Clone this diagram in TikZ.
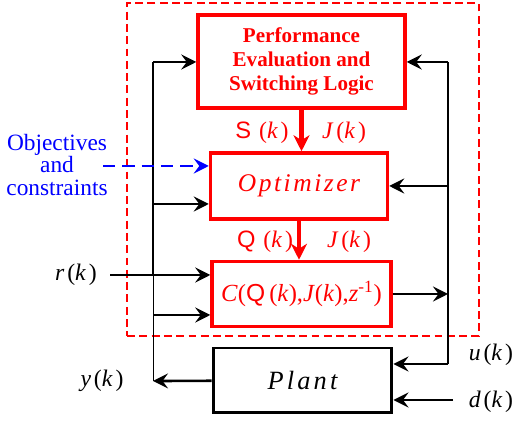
\documentclass[tikz,border=0pt]{standalone}
\usepackage{fontspec}
\setmainfont{Liberation Serif}
\setsansfont{Liberation Sans}
\usepackage{xcolor}
\usepackage{tikz}
\usetikzlibrary{arrows.meta,positioning,calc}
\definecolor{sigred}{HTML}{FF0000}
\definecolor{objblue}{HTML}{0000FF}
\newcommand{\kk}{(\textit{k})}
\begin{document}
\begin{tikzpicture}[x=0.02cm,y=-0.02cm,
  blk/.style={draw=sigred,line width=2pt,text=sigred,align=center,inner sep=2pt},
  plantbox/.style={draw=black,line width=1.7pt,align=center,inner sep=2pt},
  frame/.style={draw=sigred,line width=0.9pt,dash pattern=on 4.5pt off 2.5pt},
  lbl/.style={font=\fontsize{13.5}{15}\selectfont\addfontfeatures{LetterSpace=12}},
  bus/.style={line width=1.5pt},
  arr/.style={-{Stealth[length=3mm,width=3mm,inset=1.1mm]},line width=1.5pt},
  sigarr/.style={-{Stealth[length=3.2mm,width=3.2mm,inset=1mm]},line width=2.6pt,draw=sigred},
  obj/.style={-{Stealth[length=3mm,width=3mm,inset=1.1mm]},line width=1.5pt,draw=objblue,dash pattern=on 7pt off 4pt}
]
\useasboundingbox (0,0) rectangle (514,421);
% controller frame and blocks
\node[frame,minimum width=7.04cm,minimum height=6.66cm] (ctl) at (303,169.5) {};
\node[blk,minimum width=4.14cm,minimum height=1.86cm,
      font=\bfseries\fontsize{12}{13.6}\selectfont] (perf) at (301.5,61.5)
      {Performance\\Evaluation and\\Switching Logic};
\node[blk,minimum width=3.54cm,minimum height=1.32cm,
      font=\itshape\fontsize{14.5}{16}\selectfont\addfontfeatures{LetterSpace=10}] (opt) at (299,186) {Optimizer};
\node[blk,minimum width=3.58cm,minimum height=1.3cm,
      font=\fontsize{14}{16}\selectfont] (ctrl) at (301.5,294)
      {\textit{C}({\sffamily Q}\,\kk,\textit{J}\kk,\textit{z}\textsuperscript{-1})};
\node[plantbox,minimum width=3.58cm,minimum height=1.3cm,
      font=\itshape\fontsize{15}{17}\selectfont\addfontfeatures{LetterSpace=12}] (plant) at (302.5,380.5) {Plant};
% signal labels
\node[lbl,text=sigred] (sk) at (262,133) {{\sffamily S}\,\,\kk};
\node[lbl,text=sigred] (jk1) at (344,133) {\textit{J}\kk};
\node[lbl,text=sigred] (qk) at (265,242) {{\sffamily Q}\,\,\kk};
\node[lbl,text=sigred] (jk2) at (349,242) {\textit{J}\kk};
\node[lbl] (rk) at (76,275) {\textit{r}\kk};
\node[lbl] (yk) at (102,381) {\textit{y}\kk};
\node[lbl] (uk) at (491,355) {\textit{u}\kk};
\node[lbl] (dk) at (491,402) {\textit{d}\kk};
\node[text=objblue,align=center,font=\fontsize{13.3}{12.7}\selectfont] (objs) at (57,165)
      {Objectives\\and\\constraints};
% bus points
\coordinate (ltop) at (153,62);
\coordinate (lopt) at (153,204);
\coordinate (lr) at (153,275);
\coordinate (lc) at (153,315);
\coordinate (lbot) at (153,381);
\coordinate (rtop) at (448,62);
\coordinate (ropt) at (448,186);
\coordinate (rc) at (448,294);
\coordinate (rbot) at (448,364);
\coordinate (rin) at (110,275);
\coordinate (din) at (453,400);
\coordinate (bin) at (103,166);
% red signal flow
\draw[sigarr] (perf.south) -- (perf.south |- opt.north);
\draw[sigarr] (opt.south) -- (opt.south |- ctrl.north);
% left bus: measured output
\draw[arr] (plant) -- (lbot);
\draw[line width=0.5pt] (lbot) -- (lr);
\draw[bus] (lr) -- (ltop);
\draw[arr] (ltop) -- (ltop -| perf.west);
\draw[arr] (lopt) -- (lopt -| opt.west);
\draw[arr] (lc) -- (lc -| ctrl.west);
\draw[arr] (rin) -- (rin -| ctrl.west);
% right bus: control input
\draw[bus] (rbot) -- (rtop);
\draw[arr] (rtop) -- (rtop -| perf.east);
\draw[arr] (ropt) -- (ropt -| opt.east);
\draw[arr] (ctrl) -- (rc);
\draw[arr] (rbot) -- (rbot -| plant.east);
\draw[arr] (din) -- (din -| plant.east);
% objectives
\draw[obj] (bin) -- (bin -| opt.west);
\end{tikzpicture}
\end{document}
